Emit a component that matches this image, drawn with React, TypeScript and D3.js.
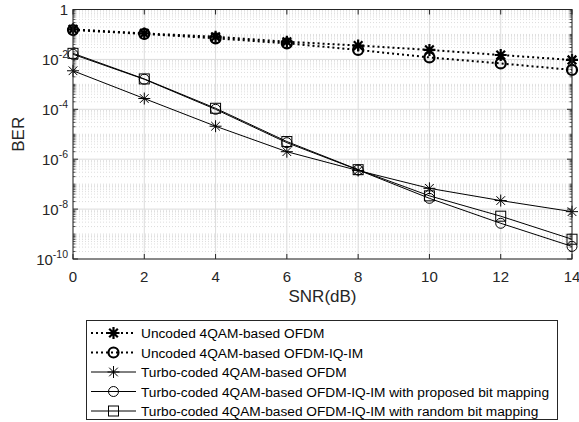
import { useEffect, useRef } from "react";
import * as d3 from "d3";

// valeurs
const snr = [0, 2, 4, 6, 8, 10, 12, 14];
const uncodedOfdm = [0.16, 0.11, 0.081, 0.051, 0.036, 0.024, 0.015, 0.0095];
const uncodedIqIm = [0.15, 0.105, 0.07, 0.044, 0.024, 0.012, 0.0069, 0.0038];
const turboOfdm = [0.0035, 2.7e-4, 2.1e-5, 2.0e-6, 3.5e-7, 6.8e-8, 2.2e-8, 7.9e-9];
const turboProposed = [0.016, 1.6e-3, 1.0e-4, 4.6e-6, 3.7e-7, 2.7e-8, 2.7e-9, 3.2e-10];
const turboRandom = [0.0175, 1.65e-3, 1.1e-4, 5.1e-6, 3.8e-7, 3.4e-8, 5.2e-9, 6.2e-10];

const legendLabels = [
  "Uncoded 4QAM-based OFDM",
  "Uncoded 4QAM-based OFDM-IQ-IM",
  "Turbo-coded 4QAM-based OFDM",
  "Turbo-coded 4QAM-based OFDM-IQ-IM with proposed bit mapping",
  "Turbo-coded 4QAM-based OFDM-IQ-IM with random bit mapping",
];
const xTicks = [0, 2, 4, 6, 8, 10, 12, 14];
const yTickExps = [0, -2, -4, -6, -8, -10];

const W = 579;
const H = 422;
const plot = { left: 73, right: 572, top: 9.5, bottom: 259 };
const axisColor = "#262626";
const font = "'Liberation Sans', Arial, sans-serif";

const series = [
  { values: uncodedOfdm, marker: "star", dotted: true, width: 2 },
  { values: uncodedIqIm, marker: "circle", dotted: true, width: 2 },
  { values: turboOfdm, marker: "star", dotted: false, width: 1 },
  { values: turboProposed, marker: "circle", dotted: false, width: 1 },
  { values: turboRandom, marker: "square", dotted: false, width: 1 },
];

const drawMarker = (g, kind, x, y, w) => {
  if (kind === "star") {
    const r = 6;
    const d = r * 0.72;
    const p = `M${x - r},${y}L${x + r},${y}M${x},${y - r}L${x},${y + r}M${x - d},${y - d}L${x + d},${y + d}M${x - d},${y + d}L${x + d},${y - d}`;
    g.append("path").attr("d", p).attr("stroke", "black").attr("stroke-width", w).attr("fill", "none");
  } else if (kind === "circle") {
    g.append("circle").attr("cx", x).attr("cy", y).attr("r", 5)
      .attr("stroke", "black").attr("stroke-width", w).attr("fill", "none");
  } else {
    g.append("rect").attr("x", x - 5).attr("y", y - 5).attr("width", 10).attr("height", 10)
      .attr("stroke", "black").attr("stroke-width", w).attr("fill", "none");
  }
};

const drawChart = (el) => {
  const svg = d3.select(el);
  svg.selectAll("*").remove();

  const x = d3.scaleLinear().domain([0, 14]).range([plot.left, plot.right]);
  const y = d3.scaleLog().domain([1e-10, 1]).range([plot.bottom, plot.top]);

  // grille mineure (pointillés)
  const minor = [];
  for (let e = -10; e < 0; e++) {
    for (let m = 1; m < 10; m++) {
      const v = m * Math.pow(10, e);
      if (m === 1 && e % 2 === 0) continue;
      minor.push(v);
    }
  }
  svg.append("g").selectAll("line").data(minor).join("line")
    .attr("x1", plot.left).attr("x2", plot.right)
    .attr("y1", d => y(d)).attr("y2", d => y(d))
    .attr("stroke", "#d4d4d4").attr("stroke-width", 0.8)
    .attr("stroke-dasharray", "1,2");

  // grille majeure
  svg.append("g").selectAll("line").data(yTickExps).join("line")
    .attr("x1", plot.left).attr("x2", plot.right)
    .attr("y1", d => y(Math.pow(10, d))).attr("y2", d => y(Math.pow(10, d)))
    .attr("stroke", "#dcdcdc").attr("stroke-width", 1);
  svg.append("g").selectAll("line").data(xTicks).join("line")
    .attr("x1", d => x(d)).attr("x2", d => x(d))
    .attr("y1", plot.top).attr("y2", plot.bottom)
    .attr("stroke", "#dcdcdc").attr("stroke-width", 1);

  // graduations
  const ticks = svg.append("g").attr("stroke", axisColor).attr("stroke-width", 1);
  xTicks.forEach(t => {
    ticks.append("line").attr("x1", x(t)).attr("x2", x(t)).attr("y1", plot.bottom).attr("y2", plot.bottom - 5);
    ticks.append("line").attr("x1", x(t)).attr("x2", x(t)).attr("y1", plot.top).attr("y2", plot.top + 5);
  });
  yTickExps.forEach(e => {
    const yy = y(Math.pow(10, e));
    ticks.append("line").attr("x1", plot.left).attr("x2", plot.left + 5).attr("y1", yy).attr("y2", yy);
    ticks.append("line").attr("x1", plot.right).attr("x2", plot.right - 5).attr("y1", yy).attr("y2", yy);
  });
  minor.forEach(v => {
    const yy = y(v);
    ticks.append("line").attr("x1", plot.left).attr("x2", plot.left + 2.5).attr("y1", yy).attr("y2", yy).attr("stroke-width", 0.8);
    ticks.append("line").attr("x1", plot.right).attr("x2", plot.right - 2.5).attr("y1", yy).attr("y2", yy).attr("stroke-width", 0.8);
  });

  // courbes
  const line = d3.line().x((d, i) => x(snr[i])).y(d => y(d));
  series.forEach(s => {
    svg.append("path").datum(s.values).attr("d", line)
      .attr("fill", "none").attr("stroke", "black").attr("stroke-width", s.width)
      .attr("stroke-dasharray", s.dotted ? "2,3" : null);
    const g = svg.append("g");
    s.values.forEach((v, i) => drawMarker(g, s.marker, x(snr[i]), y(v), s.dotted ? 2.2 : 1));
  });

  // cadre
  svg.append("rect").attr("x", plot.left).attr("y", plot.top)
    .attr("width", plot.right - plot.left).attr("height", plot.bottom - plot.top)
    .attr("fill", "none").attr("stroke", axisColor).attr("stroke-width", 1);

  // étiquettes x
  svg.append("g").selectAll("text").data(xTicks).join("text")
    .attr("x", d => x(d)).attr("y", plot.bottom + 23)
    .attr("text-anchor", "middle").attr("font-family", font).attr("font-size", 15)
    .attr("fill", axisColor).text(d => d);

  // étiquettes y
  yTickExps.forEach(e => {
    const t = svg.append("text").attr("x", plot.left - 5).attr("y", y(Math.pow(10, e)) + 5.5)
      .attr("text-anchor", "end").attr("font-family", font).attr("font-size", 15).attr("fill", axisColor);
    if (e === 0) {
      t.text("1");
    } else {
      t.append("tspan").text("10");
      t.append("tspan").attr("dy", -6.5).attr("font-size", 10.5).text(e);
    }
  });

  svg.append("text").attr("x", (plot.left + plot.right) / 2).attr("y", 302)
    .attr("text-anchor", "middle").attr("font-family", font).attr("font-size", 17)
    .attr("fill", axisColor).text("SNR(dB)");
  svg.append("text").attr("transform", `translate(24,${(plot.top + plot.bottom) / 2}) rotate(-90)`)
    .attr("text-anchor", "middle").attr("font-family", font).attr("font-size", 17)
    .attr("fill", axisColor).text("BER");

  // légende
  const lg = svg.append("g");
  lg.append("rect").attr("x", 86.5).attr("y", 320.5).attr("width", 471).attr("height", 99)
    .attr("fill", "white").attr("stroke", axisColor).attr("stroke-width", 1);
  series.forEach((s, i) => {
    const yy = 333 + i * 19.5;
    lg.append("line").attr("x1", 91).attr("x2", 136).attr("y1", yy).attr("y2", yy)
      .attr("stroke", "black").attr("stroke-width", s.width)
      .attr("stroke-dasharray", s.dotted ? "2,3" : null);
    drawMarker(lg, s.marker, 113.5, yy, s.dotted ? 2.2 : 1);
    lg.append("text").attr("x", 141).attr("y", yy + 5)
      .attr("font-family", font).attr("font-size", 13.7).attr("fill", "black")
      .text(legendLabels[i]);
  });
};

export default function App() {
  const ref = useRef(null);
  useEffect(() => {
    drawChart(ref.current);
  }, []);
  return (
    <svg ref={ref} width={W} height={H}
      style={{ position: "absolute", left: 0, top: 0, background: "white" }} />
  );
}
